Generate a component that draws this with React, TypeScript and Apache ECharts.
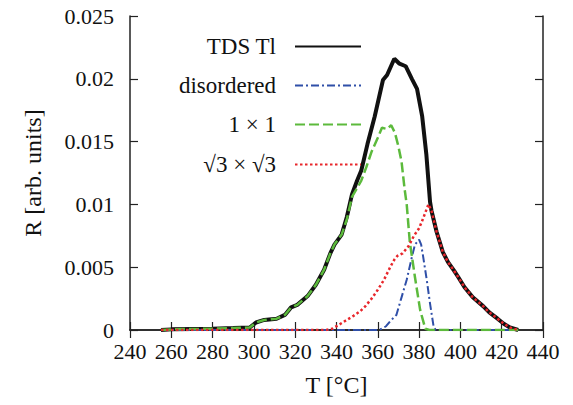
import React, { useEffect, useRef } from 'react';
import * as echarts from 'echarts';

// Temperature (°C) and desorption rate R (arb. units) for each curve
const tdsT = [255, 260, 270, 280, 290, 298, 301, 305, 311, 315, 318, 321, 326, 330, 334, 337, 339, 342.5, 345, 347.5, 350, 352, 355, 358.5, 362.5, 364.5, 368, 370.5, 373.5, 376.5, 379, 381.5, 383.5, 385.3, 386, 388.5, 391.5, 394, 397, 399, 402, 406, 411, 414, 418, 421, 424, 428];
const tdsR = [0, 0.00005, 0.00008, 0.0001, 0.00015, 0.0002, 0.0006, 0.0008, 0.0009, 0.0012, 0.0018, 0.002, 0.0027, 0.0036, 0.0048, 0.0061, 0.0068, 0.0076, 0.009, 0.0108, 0.0119, 0.0127, 0.0148, 0.017, 0.0199, 0.0203, 0.0216, 0.0212, 0.021, 0.02, 0.0192, 0.017, 0.014, 0.0102, 0.0095, 0.0078, 0.0062, 0.0054, 0.0047, 0.0042, 0.0034, 0.0026, 0.0019, 0.0014, 0.0009, 0.0005, 0.0002, 0];

const disT = [255, 360, 362, 364, 366, 369, 371.5, 374, 376.5, 378, 380, 381, 382, 383.7, 385.3, 387, 388, 428];
const disR = [0, 0, 0.0001, 0.0003, 0.0007, 0.0012, 0.0026, 0.004, 0.0058, 0.0068, 0.0072, 0.0068, 0.0058, 0.004, 0.0021, 0.0003, 0, 0];

const oneT = [255, 260, 270, 280, 290, 298, 301, 305, 311, 315, 318, 321, 326, 330, 334, 337, 339, 342.5, 345, 347.5, 350, 352, 354.5, 357, 360, 362, 364.5, 366.5, 368.3, 370, 371.5, 373, 374, 375.5, 378, 380.5, 383, 385, 400, 428];
const oneR = [0, 0.00005, 0.00008, 0.0001, 0.00015, 0.0002, 0.0006, 0.0008, 0.0009, 0.0012, 0.0018, 0.002, 0.0027, 0.0036, 0.0048, 0.0061, 0.0068, 0.0076, 0.0088, 0.0106, 0.0113, 0.0119, 0.013, 0.0142, 0.0153, 0.0161, 0.016, 0.0163, 0.0157, 0.0146, 0.0134, 0.0112, 0.01, 0.007, 0.0042, 0.0016, 0.0001, 0, 0, 0];

const sqrtT = [255, 335, 338, 341, 345, 348, 351.5, 354, 357, 360, 363, 366, 368, 369.5, 372, 375, 377.5, 380, 382, 384.5, 386, 388.5, 391.5, 394, 397, 399, 402, 406, 411, 414, 418, 421, 424, 428];
const sqrtR = [0, 0, 0.0001, 0.0004, 0.0008, 0.0011, 0.0015, 0.0019, 0.0025, 0.0032, 0.004, 0.005, 0.0056, 0.0059, 0.0061, 0.0067, 0.0075, 0.0081, 0.0089, 0.01, 0.0095, 0.0078, 0.0062, 0.0054, 0.0047, 0.0042, 0.0034, 0.0026, 0.0019, 0.0014, 0.0009, 0.0005, 0.0002, 0];

const seriesNames = ['TDS Tl', 'disordered', '1 × 1', '√3 × √3'];
const xTicks = { min: 240, max: 440, interval: 20 };
const yTicks = { min: 0, max: 0.025, interval: 0.005 };

const zip = (t: number[], r: number[]) => t.map((x, i) => [x, r[i]]);

export default function App() {
  const ref = useRef<HTMLDivElement>(null);
  useEffect(() => {
    const chart = echarts.init(ref.current!, null, { renderer: 'svg' });
    const font = 'Liberation Serif';
    const axisLine = { show: true, lineStyle: { color: '#222', width: 1.5 } };
    const axisTick = { show: true, inside: true, length: 8, lineStyle: { color: '#222', width: 1.2 } };
    const rowTops = [35, 74, 113, 153];
    const legends = seriesNames.map((n, i) => ({
      data: [n],
      right: 211,
      top: rowTops[i],
      align: 'right',
      orient: 'vertical',
      itemWidth: 66,
      itemHeight: 14,
      padding: 0,
      selectedMode: false,
      itemStyle: { opacity: 0 },
      textStyle: { fontFamily: font, fontSize: 23, color: '#111', padding: [0, 14, 0, 0] },
    }));
    chart.setOption({
      animation: false,
      backgroundColor: '#fff',
      textStyle: { fontFamily: font },
      grid: { left: 130, right: 30, top: 16, bottom: 75 },
      legend: legends,
      xAxis: [
        {
          type: 'value', ...xTicks, position: 'bottom',
          name: 'T [°C]', nameLocation: 'middle', nameGap: 43,
          nameTextStyle: { fontFamily: font, fontSize: 24, color: '#111' },
          axisLine, axisTick, splitLine: { show: false },
          axisLabel: { fontFamily: font, fontSize: 22, color: '#111', margin: 10 },
        },
        {
          type: 'value', ...xTicks, position: 'top',
          axisLine, axisTick, splitLine: { show: false }, axisLabel: { show: false },
        },
      ],
      yAxis: [
        {
          type: 'value', ...yTicks, position: 'left',
          name: 'R [arb. units]', nameLocation: 'middle', nameGap: 85,
          nameTextStyle: { fontFamily: font, fontSize: 24, color: '#111' },
          axisLine, axisTick, splitLine: { show: false },
          axisLabel: { fontFamily: font, fontSize: 22, color: '#111', margin: 16 },
        },
        {
          type: 'value', ...yTicks, position: 'right',
          axisLine, axisTick, splitLine: { show: false }, axisLabel: { show: false },
        },
      ],
      series: [
        {
          name: seriesNames[0], type: 'line', data: zip(tdsT, tdsR), symbol: 'none',
          lineStyle: { color: '#111', width: 4 }, itemStyle: { color: '#111' }, z: 2,
        },
        {
          name: seriesNames[1], type: 'line', data: zip(disT, disR), symbol: 'none',
          lineStyle: { color: '#2f4fa8', width: 2, type: [8, 3, 2, 3] }, itemStyle: { color: '#2f4fa8' }, z: 3,
        },
        {
          name: seriesNames[2], type: 'line', data: zip(oneT, oneR), symbol: 'none',
          lineStyle: { color: '#5cba3c', width: 2.5, type: [10, 4] }, itemStyle: { color: '#5cba3c' }, z: 4,
        },
        {
          name: seriesNames[3], type: 'line', data: zip(sqrtT, sqrtR), symbol: 'none',
          lineStyle: { color: '#e8262b', width: 2.5, type: [2.5, 2.5] }, itemStyle: { color: '#e8262b' }, z: 5,
        },
      ],
    });
    return () => chart.dispose();
  }, []);
  return <div ref={ref} style={{ position: 'fixed', left: 0, top: 0, width: 573, height: 405 }} />;
}
